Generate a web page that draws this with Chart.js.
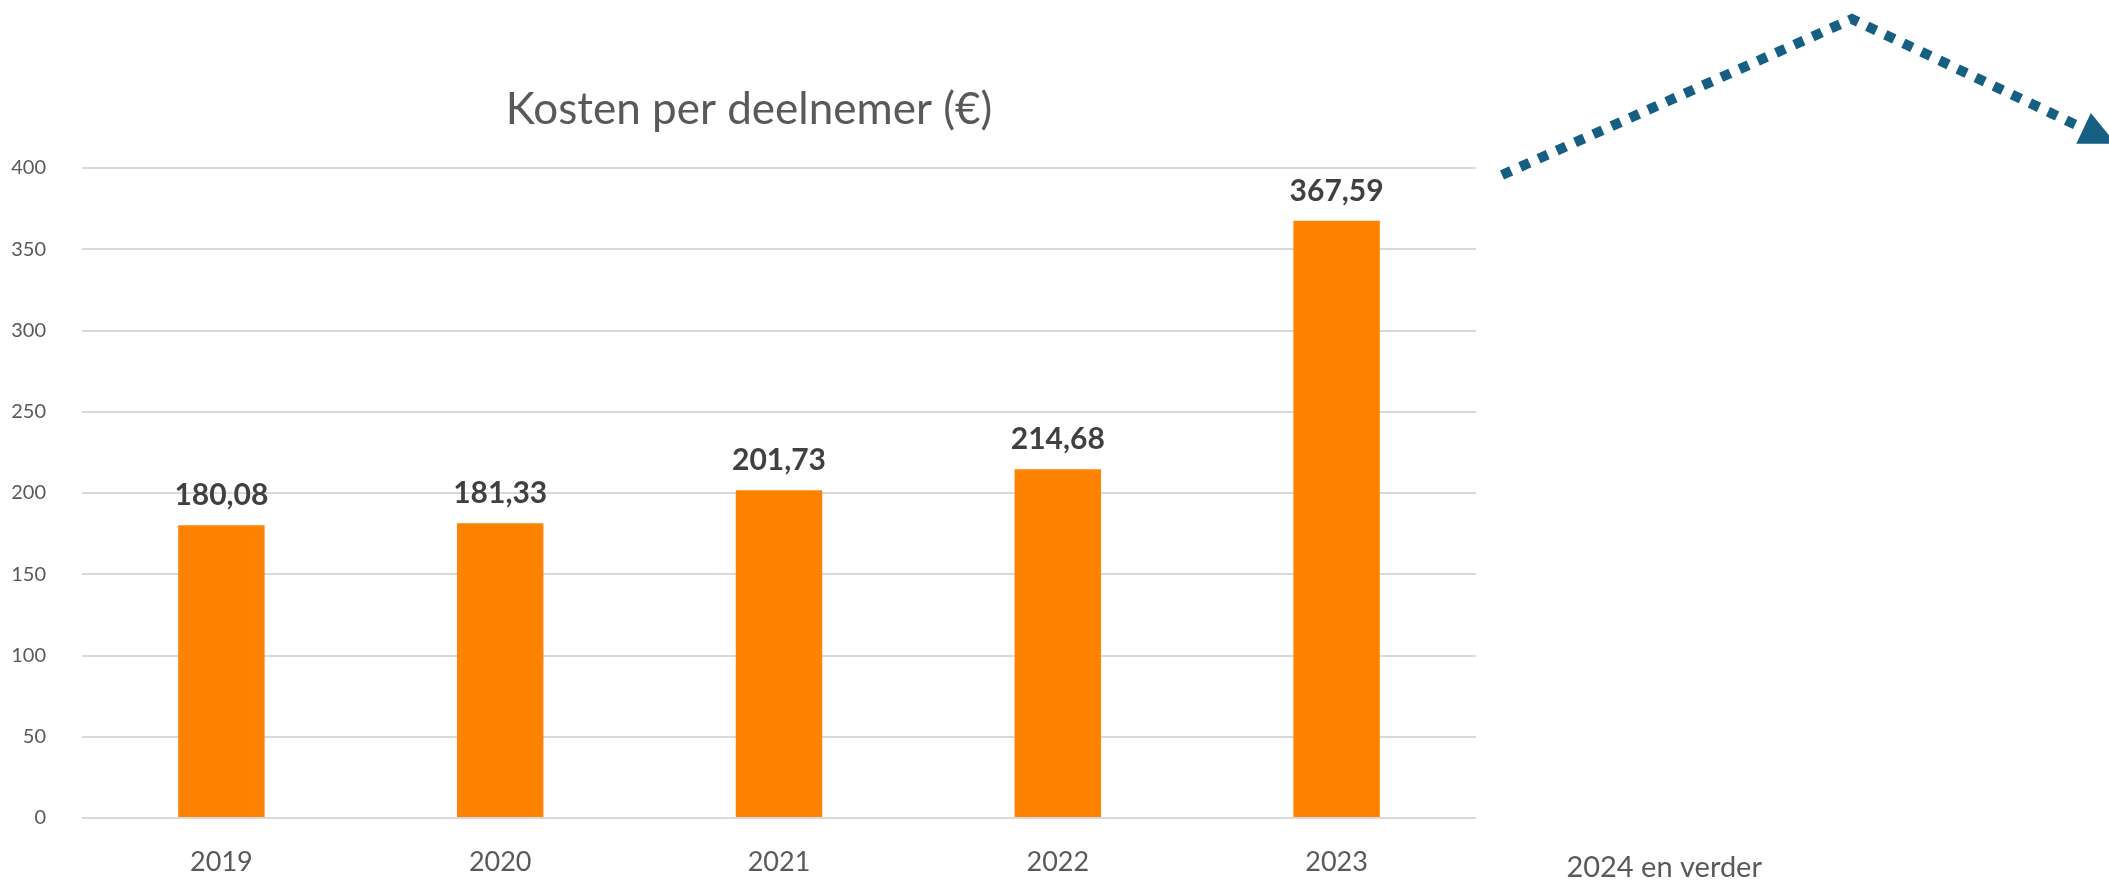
<!DOCTYPE html>
<html><head><meta charset="utf-8">
<script src="https://cdn.jsdelivr.net/npm/chart.js@4.4.1/dist/chart.umd.min.js"></script>
<style>html,body{margin:0;padding:0;background:#fff;overflow:hidden}</style>
</head><body>
<canvas id="c" width="2109" height="881" style="display:block;width:2109px;height:881px"></canvas>
<script>
const categories = ['2019', '2020', '2021', '2022', '2023'];
const costValues = [180.08, 181.33, 201.73, 214.68, 367.59];
const valueLabels = ['180,08', '181,33', '201,73', '214,68', '367,59'];
const yTickValues = [0, 50, 100, 150, 200, 250, 300, 350, 400];
const chartTitle = 'Kosten per deelnemer (€)';
const futureLabel = '2024 en verder';

const FONT = 'Lato, "Open Sans", sans-serif';
const TEXT = '#595959';

const titlePlugin = {
  id: 'customTitle',
  afterDraw(chart) {
    const ctx = chart.ctx;
    const a = chart.chartArea;
    ctx.save();
    ctx.font = '44px ' + FONT;
    ctx.fillStyle = TEXT;
    ctx.textAlign = 'center';
    ctx.textBaseline = 'middle';
    ctx.fillText(chartTitle, (a.left + a.right) / 2 - 30, a.top - 58);
    ctx.restore();
  }
};

const valueLabelPlugin = {
  id: 'valueLabels',
  afterDatasetsDraw(chart) {
    const ctx = chart.ctx;
    const meta = chart.getDatasetMeta(0);
    ctx.save();
    ctx.font = 'bold 30px ' + FONT;
    ctx.fillStyle = '#404040';
    ctx.textAlign = 'center';
    ctx.textBaseline = 'alphabetic';
    meta.data.forEach((bar, i) => {
      ctx.fillText(valueLabels[i], bar.x, bar.y - 20);
    });
    ctx.restore();
  }
};

const futurePlugin = {
  id: 'future',
  afterDraw(chart) {
    const ctx = chart.ctx;
    const a = chart.chartArea;
    const W = chart.width;
    const step = a.width / categories.length;
    ctx.save();
    ctx.font = '29px ' + FONT;
    ctx.fillStyle = TEXT;
    ctx.textAlign = 'center';
    ctx.textBaseline = 'middle';
    ctx.fillText(futureLabel, a.right + step * 0.675, a.bottom + 50);
    const p0 = {x: a.right + 26, y: a.top + 7};
    const p1 = {x: a.right + 376, y: 19};
    const p2 = {x: W - 20, y: 131};
    ctx.strokeStyle = '#175F82';
    ctx.fillStyle = '#175F82';
    ctx.lineWidth = 10;
    ctx.lineCap = 'butt';
    ctx.setLineDash([10, 10]);
    ctx.beginPath();
    ctx.moveTo(p0.x, p0.y);
    ctx.lineTo(p1.x, p1.y);
    ctx.lineTo(p2.x, p2.y);
    ctx.stroke();
    ctx.setLineDash([]);
    const ang = Math.atan2(p2.y - p1.y, p2.x - p1.x);
    const tip = {x: p2.x + Math.cos(ang) * 30, y: p2.y + Math.sin(ang) * 30};
    const len = 36, half = 17;
    const bx = tip.x - Math.cos(ang) * len, by = tip.y - Math.sin(ang) * len;
    ctx.beginPath();
    ctx.moveTo(tip.x, tip.y);
    ctx.lineTo(bx + Math.sin(ang) * half, by - Math.cos(ang) * half);
    ctx.lineTo(bx - Math.sin(ang) * half, by + Math.cos(ang) * half);
    ctx.closePath();
    ctx.fill();
    ctx.restore();
  }
};

new Chart(document.getElementById('c'), {
  type: 'bar',
  data: {
    labels: categories,
    datasets: [{
      data: costValues,
      backgroundColor: '#FF8200',
      borderWidth: 0,
      categoryPercentage: 1,
      barPercentage: 0.31
    }]
  },
  options: {
    responsive: false,
    animation: false,
    devicePixelRatio: 1,
    layout: {padding: {left: 0, right: 633, top: 168, bottom: 0}},
    plugins: {
      legend: {display: false},
      tooltip: {enabled: false},
      title: {display: false}
    },
    scales: {
      x: {
        afterFit(scale) { scale.height = 63; },
        grid: {display: false},
        border: {display: false},
        ticks: {color: TEXT, font: {family: FONT, size: 27}, padding: 20}
      },
      y: {
        min: 0, max: 400,
        afterBuildTicks(scale) { scale.ticks = yTickValues.map(v => ({value: v})); },
        afterFit(scale) { scale.width = 82; },
        grid: {color: '#D9D9D9', lineWidth: 2, drawTicks: false},
        border: {display: false},
        ticks: {color: TEXT, font: {family: FONT, size: 20}, padding: 36}
      }
    }
  },
  plugins: [valueLabelPlugin, futurePlugin, titlePlugin]
});
</script>
</body></html>
